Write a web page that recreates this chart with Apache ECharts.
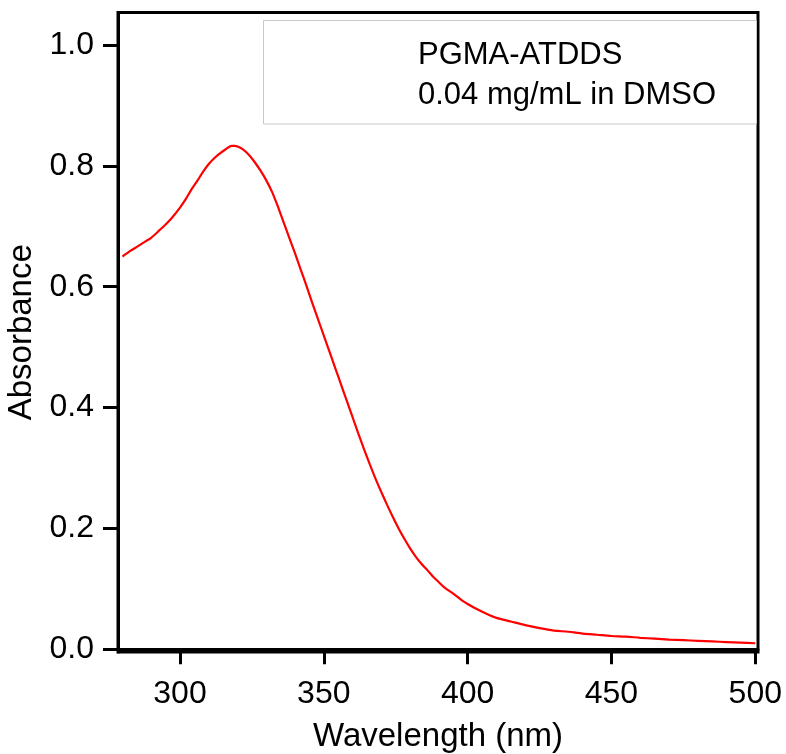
<!DOCTYPE html>
<html>
<head>
<meta charset="utf-8">
<script src="https://cdn.jsdelivr.net/npm/echarts@6/dist/echarts.min.js"></script>
<style>html,body{margin:0;padding:0;background:#fff;}#c{width:786px;height:754px;}</style>
</head>
<body>
<div id="c"></div>
<script>
const wavelength = [280,283,285,288,290,293,295,297,300,302,304,306,308,310,312,314,316,318,319,320,322,324,326,328,330,332,334,336,338,340,342,344,346,348,350,352,354,356,358,360,362,364,366,368,370,372,374,376,378,380,382,384,386,388,390,392,395,398,400,403,406,410,415,420,425,430,435,440,445,450,455,460,465,470,475,480,485,490,495,500];
const absorbance = [0.650,0.660,0.666,0.675,0.681,0.694,0.703,0.713,0.731,0.745,0.761,0.775,0.790,0.803,0.813,0.821,0.828,0.833,0.833,0.832,0.827,0.818,0.806,0.792,0.776,0.757,0.733,0.707,0.681,0.655,0.628,0.601,0.573,0.546,0.519,0.492,0.465,0.438,0.411,0.384,0.357,0.331,0.306,0.282,0.260,0.239,0.219,0.200,0.183,0.167,0.153,0.141,0.131,0.120,0.111,0.102,0.092,0.081,0.075,0.067,0.060,0.052,0.046,0.040,0.035,0.031,0.029,0.026,0.024,0.022,0.021,0.019,0.0175,0.016,0.015,0.014,0.013,0.012,0.011,0.010];
const xTicks = [300,350,400,450,500];
const yTicks = [0,0.2,0.4,0.6,0.8,1.0];
const annotationLines = ['PGMA-ATDDS','0.04 mg/mL in DMSO'];
const xTitle = 'Wavelength (nm)';
const yTitle = 'Absorbance';

const FONT = 'Liberation Sans, Arial, sans-serif';
const chart = echarts.init(document.getElementById('c'), null, {renderer:'canvas'});
chart.setOption({
  animation:false,
  backgroundColor:'#fff',
  grid:{left:118,right:28,top:12.5,bottom:102,show:true,borderColor:'#000',borderWidth:3,backgroundColor:'transparent',containLabel:false,outerBoundsMode:'none'},
  xAxis:{
    type:'value',min:278.45,max:500.94,
    name:xTitle,nameLocation:'middle',nameGap:68,
    nameTextStyle:{fontFamily:FONT,fontSize:33,color:'#000'},
    axisLine:{show:true,lineStyle:{color:'#000',width:3}},
    axisTick:{show:true,length:15,inside:false,lineStyle:{color:'#000',width:3},customValues:xTicks},
    axisLabel:{fontFamily:FONT,fontSize:32,color:'#000',margin:26,customValues:xTicks,formatter:v=>String(v)},
    splitLine:{show:false}
  },
  yAxis:{
    type:'value',min:-0.0045,max:1.0538,
    name:yTitle,nameLocation:'middle',nameGap:78,nameRotate:90,
    nameTextStyle:{fontFamily:FONT,fontSize:33,color:'#000'},
    axisLine:{show:true,lineStyle:{color:'#000',width:3}},
    axisTick:{show:true,length:15,inside:false,lineStyle:{color:'#000',width:3},customValues:yTicks},
    axisLabel:{fontFamily:FONT,fontSize:32,color:'#000',margin:24,customValues:yTicks,formatter:v=>v.toFixed(1)},
    splitLine:{show:false}
  },
  graphic:[
    {type:'rect',shape:{x:263.5,y:20.5,width:493,height:103.5},style:{fill:'#fff',stroke:'#c8c8c8',lineWidth:1},z:1},
    {type:'text',x:418,y:55,style:{text:annotationLines[0],font:'31px '+FONT,fill:'#000',textVerticalAlign:'middle',textAlign:'left'},z:2},
    {type:'text',x:418,y:95,style:{text:annotationLines[1],font:'31px '+FONT,fill:'#000',textVerticalAlign:'middle',textAlign:'left'},z:2}
  ],
  series:[{
    type:'line',data:wavelength.map((w,i)=>[w,absorbance[i]]),
    showSymbol:false,smooth:0.3,
    lineStyle:{color:'#ff0000',width:2.2},z:5
  }]
});
</script>
</body>
</html>
